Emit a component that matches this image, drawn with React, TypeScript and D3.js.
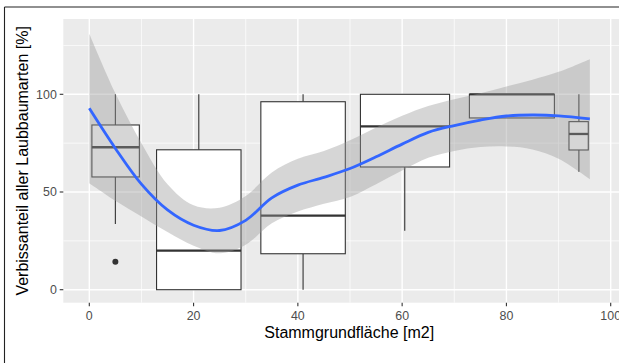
import React from 'react';
import * as d3 from 'd3';

// Boxplot groups along the basal-area axis
const groupCenter = [5, 21, 41, 60.5, 81, 93.9];
const groupXmin = [0.5, 12.9, 32.9, 52, 72.9, 92];
const groupXmax = [9.6, 29.1, 49.1, 69.1, 89.2, 95.7];
const whiskerLow = [33.6, 0, 0, 30.2, 87.9, 60.4];
const quart1 = [57.7, 0, 18.4, 62.8, 87.9, 71.5];
const medians = [72.9, 20, 37.9, 83.6, 100, 79.7];
const quart3 = [84.3, 71.6, 96.2, 100, 100, 86];
const whiskerHigh = [100, 100, 100, 100, 100, 100];
const outlierX = [5];
const outlierY = [14.3];

// Loess smooth with confidence band
const smoothX = [0, 5, 10, 15, 20, 25, 30, 35, 40, 45, 50, 55, 60, 65, 70, 75, 80, 85, 90, 96];
const smoothFit = [92.8, 72.3, 54, 40.8, 33, 30.3, 35.5, 47, 53.5, 57.5, 62, 68, 74.5, 80.5, 84, 86.8, 88.9, 89.4, 89, 87.4];
const smoothLower = [54.5, 45.5, 37.5, 29.5, 22.5, 18.6, 23, 34, 40, 44, 47.5, 54, 61, 67.5, 71, 73, 73.3, 71.8, 67, 56.5];
const smoothUpper = [131, 100.5, 75, 54, 43.2, 42, 48, 60, 67, 71, 76.5, 83, 89, 94, 97.5, 100.5, 104, 107.5, 111.5, 118];

const xTicks = [0, 20, 40, 60, 80, 100];
const xMinor = [10, 30, 50, 70, 90];
const yTicks = [0, 50, 100];
const yMinor = [25, 75, 125];

const FONT = "'Liberation Sans', Arial, Helvetica, sans-serif";

export default function App() {
  const W = 619;
  const H = 363;
  const x = d3.scaleLinear().domain([0, 100]).range([89.3, 610.7]);
  const y = d3.scaleLinear().domain([0, 100]).range([289.7, 94.3]);
  const panel = { left: 63.3, right: 636, top: 19, bottom: 302.7 };

  const pts = smoothX.map((v, i) => ({ x: v, fit: smoothFit[i], lo: smoothLower[i], hi: smoothUpper[i] }));
  const area = d3
    .area<any>()
    .x((d) => x(d.x))
    .y0((d) => y(d.lo))
    .y1((d) => y(d.hi))
    .curve(d3.curveCatmullRom.alpha(0.5));
  const line = d3
    .line<any>()
    .x((d) => x(d.x))
    .y((d) => y(d.fit))
    .curve(d3.curveCatmullRom.alpha(0.5));

  const boxColor = '#333333';

  return (
    <svg
      width={W}
      height={H}
      style={{ position: 'absolute', left: 0, top: 0, background: '#fff', overflow: 'hidden' }}
    >
      <rect x={0} y={0} width={W} height={H} fill="#fff" />
      {/* panel */}
      <rect
        x={panel.left}
        y={panel.top}
        width={panel.right - panel.left}
        height={panel.bottom - panel.top}
        fill="#EBEBEB"
      />
      {yMinor.map((t) => (
        <line key={'ym' + t} x1={panel.left} x2={panel.right} y1={y(t)} y2={y(t)} stroke="#fff" strokeWidth={0.7} />
      ))}
      {xMinor.map((t) => (
        <line key={'xm' + t} x1={x(t)} x2={x(t)} y1={panel.top} y2={panel.bottom} stroke="#fff" strokeWidth={0.7} />
      ))}
      {yTicks.map((t) => (
        <line key={'yg' + t} x1={panel.left} x2={panel.right} y1={y(t)} y2={y(t)} stroke="#fff" strokeWidth={1.4} />
      ))}
      {xTicks.map((t) => (
        <line key={'xg' + t} x1={x(t)} x2={x(t)} y1={panel.top} y2={panel.bottom} stroke="#fff" strokeWidth={1.4} />
      ))}

      {/* boxplots */}
      {groupCenter.map((c, i) => (
        <g key={'box' + i}>
          <line x1={x(c)} x2={x(c)} y1={y(whiskerHigh[i])} y2={y(quart3[i])} stroke={boxColor} strokeWidth={1.1} />
          <line x1={x(c)} x2={x(c)} y1={y(quart1[i])} y2={y(whiskerLow[i])} stroke={boxColor} strokeWidth={1.1} />
          <rect
            x={x(groupXmin[i])}
            y={y(quart3[i])}
            width={x(groupXmax[i]) - x(groupXmin[i])}
            height={y(quart1[i]) - y(quart3[i])}
            fill="#fff"
            stroke={boxColor}
            strokeWidth={1.1}
          />
          <line
            x1={x(groupXmin[i])}
            x2={x(groupXmax[i])}
            y1={y(medians[i])}
            y2={y(medians[i])}
            stroke={boxColor}
            strokeWidth={2.3}
          />
        </g>
      ))}
      {outlierX.map((v, i) => (
        <circle key={'o' + i} cx={x(v)} cy={y(outlierY[i])} r={3} fill={boxColor} />
      ))}

      {/* smooth */}
      <path d={area(pts) || ''} fill="#999999" fillOpacity={0.4} />
      <path d={line(pts) || ''} fill="none" stroke="#3366FF" strokeWidth={2.8} />

      {/* axes */}
      {xTicks.map((t) => (
        <g key={'xt' + t}>
          <line x1={x(t)} x2={x(t)} y1={panel.bottom} y2={panel.bottom + 3.6} stroke="#333" strokeWidth={1.1} />
          <text x={x(t)} y={320} textAnchor="middle" fontFamily={FONT} fontSize={12.4} fill="#4D4D4D">
            {t}
          </text>
        </g>
      ))}
      {yTicks.map((t) => (
        <g key={'yt' + t}>
          <line x1={panel.left - 3.6} x2={panel.left} y1={y(t)} y2={y(t)} stroke="#333" strokeWidth={1.1} />
          <text
            x={panel.left - 6.5}
            y={y(t)}
            dy="0.36em"
            textAnchor="end"
            fontFamily={FONT}
            fontSize={12.4}
            fill="#4D4D4D"
          >
            {t}
          </text>
        </g>
      ))}
      <text x={349.2} y={337.7} textAnchor="middle" fontFamily={FONT} fontSize={16} fill="#000">
        Stammgrundfläche [m2]
      </text>
      <text
        transform={`translate(28.4, ${(panel.top + panel.bottom) / 2}) rotate(-90)`}
        textAnchor="middle"
        fontFamily={FONT}
        fontSize={16}
        fill="#000"
      >
        Verbissanteil aller Laubbaumarten [%]
      </text>

      {/* outer frame: top and left edges */}
      <line x1={4.5} x2={W} y1={7} y2={7} stroke="#222" strokeWidth={1.1} />
      <line x1={4.5} x2={4.5} y1={7} y2={H} stroke="#222" strokeWidth={1.1} />
    </svg>
  );
}
